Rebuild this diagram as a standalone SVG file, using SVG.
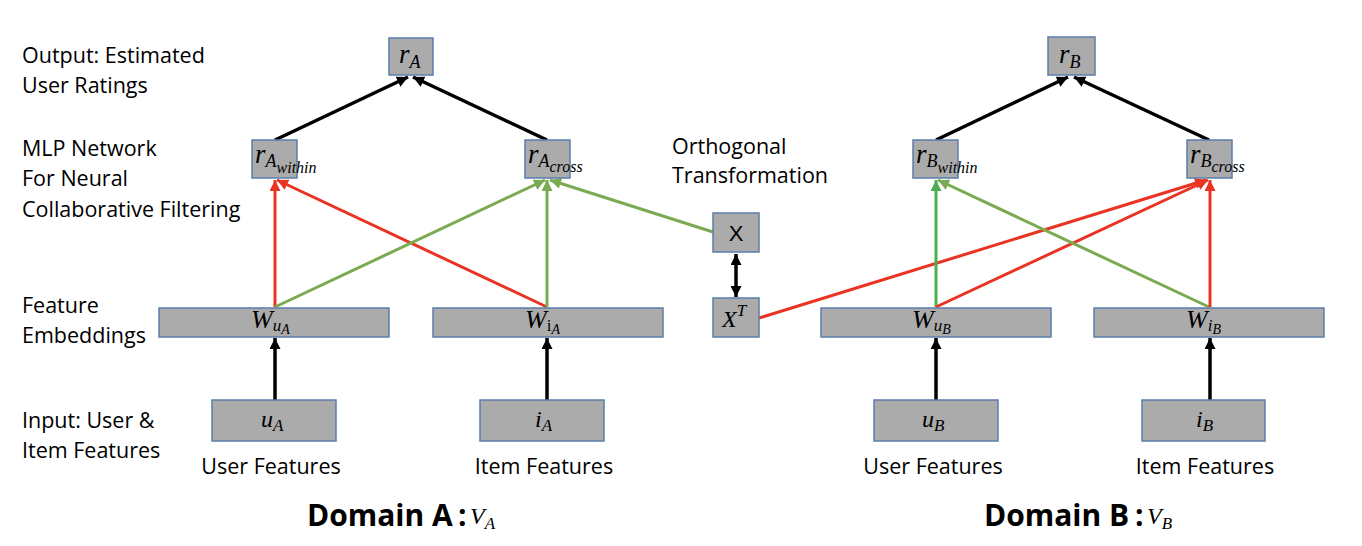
<svg xmlns="http://www.w3.org/2000/svg" width="1362" height="546" viewBox="0 0 1362 546">
<style>
.box{fill:#ababab;stroke:#5a7eab;stroke-width:1.5}
.lbl{font-family:"Open Sans",sans-serif;font-size:21.5px;fill:#000}
.m{font-family:"Liberation Serif",serif;font-style:italic;fill:#000;font-size:24px}
.w{font-size:26px}
.r{font-size:27px}
.s{font-size:17px}
.ss{font-size:14px}
.rs{font-size:18px}
.rss{font-size:16px}
.up{font-style:normal}
.blk{stroke:#000;stroke-width:3.5;fill:none}
.red{stroke:#ea3323;stroke-width:3;fill:none}
.grn{stroke:#7aab52;stroke-width:3;fill:none}
.grn2{stroke:#4caf50;stroke-width:3;fill:none}
.dom{font-family:"Open Sans",sans-serif;font-weight:bold;font-size:30px;fill:#000}
</style>
<defs>
<marker id="ab" viewBox="0 0 10 10" refX="10" refY="5" markerWidth="12" markerHeight="11" markerUnits="userSpaceOnUse" orient="auto-start-reverse"><path d="M0,0 L10,5 L0,10 z" fill="#000"/></marker>
<marker id="ar" viewBox="0 0 10 10" refX="10" refY="5" markerWidth="12" markerHeight="11" markerUnits="userSpaceOnUse" orient="auto"><path d="M0,0 L10,5 L0,10 z" fill="#ea3323"/></marker>
<marker id="ag" viewBox="0 0 10 10" refX="10" refY="5" markerWidth="12" markerHeight="11" markerUnits="userSpaceOnUse" orient="auto"><path d="M0,0 L10,5 L0,10 z" fill="#7aab52"/></marker>
<marker id="ag2" viewBox="0 0 10 10" refX="10" refY="5" markerWidth="12" markerHeight="11" markerUnits="userSpaceOnUse" orient="auto"><path d="M0,0 L10,5 L0,10 z" fill="#4caf50"/></marker>
</defs>
<rect width="1362" height="546" fill="#fff"/>

<g id="labels">
<text class="lbl" x="22" y="63">Output: Estimated</text>
<text class="lbl" x="22" y="93">User Ratings</text>
<text class="lbl" x="22" y="156">MLP Network</text>
<text class="lbl" x="22" y="186">For Neural</text>
<text class="lbl" x="22" y="217">Collaborative Filtering</text>
<text class="lbl" x="22" y="313">Feature</text>
<text class="lbl" x="22" y="343">Embeddings</text>
<text class="lbl" x="22" y="428">Input: User &amp;</text>
<text class="lbl" x="22" y="458">Item Features</text>
<text class="lbl" x="672" y="154">Orthogonal</text>
<text class="lbl" x="672" y="183">Transformation</text>
<text class="lbl" x="271" y="474" text-anchor="middle">User Features</text>
<text class="lbl" x="544" y="474" text-anchor="middle">Item Features</text>
<text class="lbl" x="933" y="474" text-anchor="middle">User Features</text>
<text class="lbl" x="1205" y="474" text-anchor="middle">Item Features</text>
<text class="dom" x="307" y="526">Domain A</text>
<text class="dom" x="458" y="526">:</text>
<text class="m" x="470" y="524" font-size="22">V<tspan class="s" dy="5">A</tspan></text>
<text class="dom" x="984" y="526">Domain B</text>
<text class="dom" x="1135" y="526">:</text>
<text class="m" x="1147" y="524" font-size="22">V<tspan class="s" dy="5">B</tspan></text>
</g>

<g id="connectors">
<line class="blk" x1="275" y1="140" x2="408" y2="77" marker-end="url(#ab)"/>
<line class="blk" x1="547" y1="140" x2="413" y2="77" marker-end="url(#ab)"/>
<line class="blk" x1="936" y1="140" x2="1068" y2="77" marker-end="url(#ab)"/>
<line class="blk" x1="1209" y1="140" x2="1074" y2="77" marker-end="url(#ab)"/>
<line class="blk" x1="275" y1="400" x2="275" y2="338" marker-end="url(#ab)"/>
<line class="blk" x1="547" y1="400" x2="547" y2="338" marker-end="url(#ab)"/>
<line class="blk" x1="936" y1="400" x2="936" y2="338" marker-end="url(#ab)"/>
<line class="blk" x1="1210" y1="400" x2="1210" y2="338" marker-end="url(#ab)"/>
<line class="blk" x1="736" y1="254" x2="736" y2="297" stroke-width="3" marker-start="url(#ab)" marker-end="url(#ab)"/>
<line class="red" x1="275" y1="307" x2="275" y2="180" marker-end="url(#ar)"/>
<line class="red" x1="547" y1="307" x2="277" y2="180" marker-end="url(#ar)"/>
<line class="grn" x1="275" y1="307" x2="545" y2="180" marker-end="url(#ag)"/>
<line class="grn" x1="547" y1="307" x2="547" y2="180" marker-end="url(#ag)"/>
<line class="grn" x1="713" y1="232" x2="550" y2="180" marker-end="url(#ag)"/>
<line class="red" x1="759" y1="318" x2="1206" y2="180" marker-end="url(#ar)"/>
<line class="grn2" x1="936" y1="307" x2="936" y2="180" marker-end="url(#ag2)"/>
<line class="red" x1="936" y1="307" x2="1208" y2="180" marker-end="url(#ar)"/>
<line class="grn" x1="1209" y1="307" x2="938" y2="180" marker-end="url(#ag)"/>
<line class="red" x1="1210" y1="307" x2="1210" y2="180" marker-end="url(#ar)"/>
</g>

<g id="rA"><rect class="box" x="389" y="38" width="44" height="37"/><text class="m r" x="399" y="63">r<tspan class="rs" dy="5">A</tspan></text></g>
<g id="rAwithin"><rect class="box" x="252" y="140" width="45" height="38"/><text class="m r" x="255" y="163">r<tspan class="rs" dy="4">A</tspan><tspan class="rss" dy="6">within</tspan></text></g>
<g id="rAcross"><rect class="box" x="525" y="140" width="45" height="38"/><text class="m r" x="528" y="163">r<tspan class="rs" dy="4">A</tspan><tspan class="rss" dy="5">cross</tspan></text></g>
<g id="WuA"><rect class="box" x="159" y="308" width="230" height="29"/><text class="m w" x="251" y="328">W<tspan class="s" dy="3">u</tspan><tspan class="ss" dy="3">A</tspan></text></g>
<g id="WiA"><rect class="box" x="433" y="308" width="230" height="29"/><text class="m w" x="525" y="328">W<tspan class="s up" dy="3">i</tspan><tspan class="ss" dy="3">A</tspan></text></g>
<g id="uA"><rect class="box" x="212" y="400" width="124" height="41"/><text class="m" x="261" y="427" font-size="26">u<tspan class="s" dy="4">A</tspan></text></g>
<g id="iA"><rect class="box" x="480" y="400" width="124" height="41"/><text class="m" x="535" y="427" font-size="26">i<tspan class="s" dy="4">A</tspan></text></g>
<g id="X"><rect class="box" x="713" y="213" width="46" height="39"/><text x="736" y="241" text-anchor="middle" font-family="Liberation Sans,sans-serif" font-size="22">X</text></g>
<g id="XT"><rect class="box" x="713" y="298" width="46" height="39"/><text class="m" x="722" y="327" font-size="26">X<tspan class="s" dy="-11">T</tspan></text></g>
<g id="rB"><rect class="box" x="1048" y="37" width="47" height="38"/><text class="m r" x="1059" y="63">r<tspan class="rs" dy="5">B</tspan></text></g>
<g id="rBwithin"><rect class="box" x="913" y="140" width="45" height="38"/><text class="m r" x="916" y="163">r<tspan class="rs" dy="4">B</tspan><tspan class="rss" dy="6">within</tspan></text></g>
<g id="rBcross"><rect class="box" x="1187" y="140" width="45" height="38"/><text class="m r" x="1190" y="163">r<tspan class="rs" dy="4">B</tspan><tspan class="rss" dy="5">cross</tspan></text></g>
<g id="WuB"><rect class="box" x="821" y="308" width="230" height="29"/><text class="m w" x="912" y="328">W<tspan class="s" dy="3">u</tspan><tspan class="ss" dy="3">B</tspan></text></g>
<g id="WiB"><rect class="box" x="1094" y="308" width="230" height="29"/><text class="m w" x="1186" y="328">W<tspan class="s" dy="3">i</tspan><tspan class="ss" dy="3">B</tspan></text></g>
<g id="uB"><rect class="box" x="874" y="400" width="124" height="41"/><text class="m" x="922" y="427" font-size="26">u<tspan class="s" dy="4">B</tspan></text></g>
<g id="iB"><rect class="box" x="1142" y="400" width="123" height="41"/><text class="m" x="1196" y="427" font-size="26">i<tspan class="s" dy="4">B</tspan></text></g>
</svg>
